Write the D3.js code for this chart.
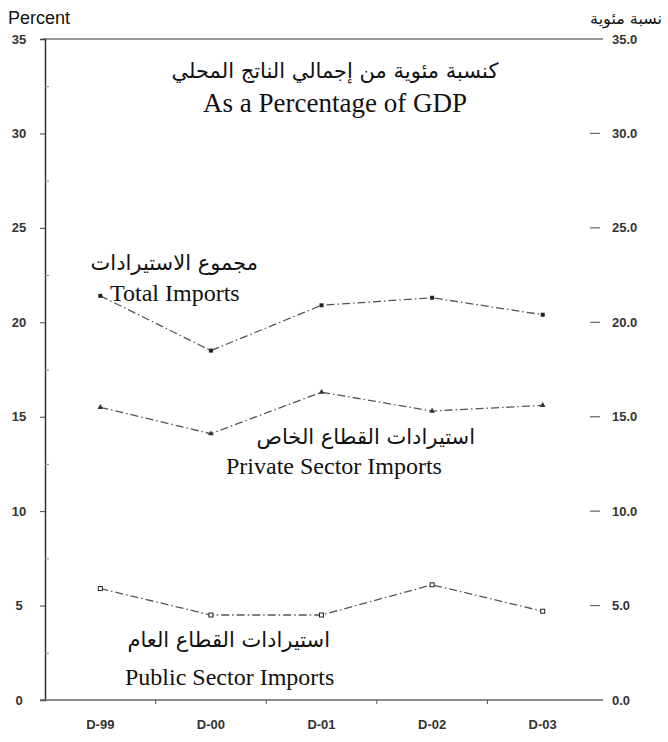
<!DOCTYPE html>
<html>
<head>
<meta charset="utf-8">
<script src="https://cdn.jsdelivr.net/npm/d3@7"></script>
<style>
  body { margin: 0; background: #fff; }
</style>
</head>
<body>
<div id="chart"></div>
<script>
const years = ["D-99", "D-00", "D-01", "D-02", "D-03"];
const totalImports = [21.4, 18.5, 20.9, 21.3, 20.4];
const privateImports = [15.5, 14.1, 16.3, 15.3, 15.6];
const publicImports = [5.9, 4.5, 4.5, 6.1, 4.7];
const leftTicks = [0, 5, 10, 15, 20, 25, 30, 35];
const rightTicks = [0, 5, 10, 15, 20, 25, 30, 35];

const width = 668;
const height = 742;
const plotLeft = 45, plotRight = 603, plotTop = 39, plotBottom = 700;

const svg = d3.select("#chart").append("svg")
  .attr("width", width)
  .attr("height", height);

const x = d3.scalePoint(years, [plotLeft, 598]).padding(0.5);
const y = d3.scaleLinear([0, 35], [plotBottom, plotTop]);

const serif = "'Liberation Serif', 'Times New Roman', serif";
const sans = "'Liberation Sans', Arial, sans-serif";
const arabic = "'DejaVu Sans', Arial, sans-serif";

// frame: top rule and left axis
svg.append("line")
  .attr("x1", plotLeft - 2).attr("x2", plotRight)
  .attr("y1", y(35)).attr("y2", y(35))
  .attr("stroke", "#777").attr("stroke-width", 1.5);

svg.append("g")
  .attr("transform", `translate(${plotLeft},0)`)
  .call(d3.axisLeft(y).tickValues(leftTicks).tickSize(5).tickFormat(""))
  .call(g => g.select(".domain").attr("stroke", "#333").attr("stroke-width", 1.5))
  .call(g => g.selectAll(".tick line").attr("stroke", "#444"));

// minor ticks inside
svg.append("g")
  .attr("transform", `translate(${plotLeft},0)`)
  .call(d3.axisRight(y).tickValues(d3.range(2.5, 35, 5)).tickSize(4).tickFormat(""))
  .call(g => g.select(".domain").remove())
  .call(g => g.selectAll(".tick line").attr("stroke", "#888"));

svg.append("g")
  .selectAll("text")
  .data(leftTicks)
  .join("text")
  .attr("x", 19)
  .attr("y", d => y(d))
  .attr("dy", "0.35em")
  .attr("text-anchor", "middle")
  .attr("font-family", sans)
  .attr("font-size", 13)
  .attr("font-weight", "bold")
  .attr("fill", "#333")
  .text(d => d);

// right side ticks and labels
svg.append("g")
  .selectAll("line")
  .data(rightTicks.filter(d => d > 0 && d < 35))
  .join("line")
  .attr("x1", 590).attr("x2", 600)
  .attr("y1", d => y(d)).attr("y2", d => y(d))
  .attr("stroke", "#666").attr("stroke-width", 1.2);

svg.append("g")
  .selectAll("text")
  .data(rightTicks)
  .join("text")
  .attr("x", 612)
  .attr("y", d => y(d))
  .attr("dy", "0.35em")
  .attr("font-family", sans)
  .attr("font-size", 13)
  .attr("font-weight", "bold")
  .attr("fill", "#333")
  .text(d => d3.format(".1f")(d));

// x axis
const band = x.step();
svg.append("line")
  .attr("x1", plotLeft - 5).attr("x2", plotRight)
  .attr("y1", plotBottom).attr("y2", plotBottom)
  .attr("stroke", "#666").attr("stroke-width", 1.5);

svg.append("g")
  .selectAll("line")
  .data(d3.range(1, years.length))
  .join("line")
  .attr("x1", i => plotLeft + i * band).attr("x2", i => plotLeft + i * band)
  .attr("y1", plotBottom).attr("y2", plotBottom + 4)
  .attr("stroke", "#555");

svg.append("g")
  .selectAll("text")
  .data(years)
  .join("text")
  .attr("x", d => x(d))
  .attr("y", 729)
  .attr("text-anchor", "middle")
  .attr("font-family", sans)
  .attr("font-size", 13)
  .attr("font-weight", "bold")
  .attr("fill", "#333")
  .text(d => d);

// lines
const series = [
  { name: "total", values: totalImports, marker: "square" },
  { name: "private", values: privateImports, marker: "triangle" },
  { name: "public", values: publicImports, marker: "open" }
];

const line = d3.line()
  .x((d, i) => x(years[i]))
  .y(d => y(d));

svg.append("g")
  .selectAll("path")
  .data(series)
  .join("path")
  .attr("d", d => line(d.values))
  .attr("fill", "none")
  .attr("stroke", "#555")
  .attr("stroke-width", 1.3)
  .attr("stroke-dasharray", "8,3,1.5,3");

series.forEach(s => {
  const g = svg.append("g");
  const pts = s.values.map((v, i) => [x(years[i]), y(v)]);
  if (s.marker === "triangle") {
    g.selectAll("path").data(pts).join("path")
      .attr("d", d3.symbol(d3.symbolTriangle, 14))
      .attr("transform", d => `translate(${d[0]},${d[1]})`)
      .attr("fill", "#333");
  } else {
    g.selectAll("rect").data(pts).join("rect")
      .attr("x", d => d[0] - 2).attr("y", d => d[1] - 2)
      .attr("width", 4).attr("height", 4)
      .attr("fill", s.marker === "open" ? "#fff" : "#222")
      .attr("stroke", "#222")
      .attr("stroke-width", s.marker === "open" ? 1 : 0);
  }
});

// corner labels
svg.append("text")
  .attr("x", 8).attr("y", 24)
  .attr("font-family", sans).attr("font-size", 18)
  .attr("fill", "#111")
  .text("Percent");

svg.append("text")
  .attr("x", 662).attr("y", 24)
  .attr("text-anchor", "end")
  .attr("font-family", arabic).attr("font-size", 16)
  .attr("fill", "#111")
  .text("نسبة مئوية");

// title
svg.append("text")
  .attr("x", 335).attr("y", 78)
  .attr("text-anchor", "middle")
  .attr("font-family", arabic).attr("font-size", 21)
  .attr("fill", "#111")
  .text("كنسبة مئوية من إجمالي الناتج المحلي");

svg.append("text")
  .attr("x", 335).attr("y", 112)
  .attr("text-anchor", "middle")
  .attr("font-family", serif).attr("font-size", 27)
  .attr("fill", "#111")
  .text("As a Percentage of GDP");

// series labels
const labels = [
  { ar: "مجموع الاستيرادات", en: "Total Imports", x: 110, arX: 258, arY: 270, enY: 301 },
  { ar: "استيرادات القطاع الخاص", en: "Private Sector Imports", x: 226, arX: 475, arY: 444, enY: 474 },
  { ar: "استيرادات القطاع العام", en: "Public Sector Imports", x: 125, arX: 330, arY: 647, enY: 685 }
];

labels.forEach(l => {
  svg.append("text")
    .attr("x", l.x).attr("y", l.enY)
    .attr("font-family", serif).attr("font-size", 24)
    .attr("fill", "#111")
    .text(l.en);
  svg.append("text")
    .attr("x", l.arX).attr("y", l.arY)
    .attr("text-anchor", "end")
    .attr("font-family", arabic).attr("font-size", 21)
    .attr("fill", "#111")
    .text(l.ar);
});
</script>
</body>
</html>
